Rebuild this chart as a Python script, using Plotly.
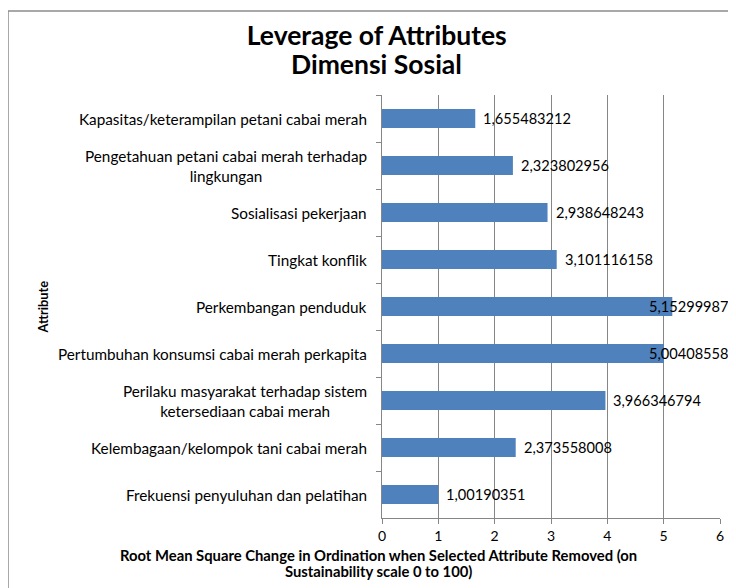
import plotly.graph_objects as go

# data (top to bottom)
attributes = [
    'Kapasitas/keterampilan petani cabai merah',
    'Pengetahuan petani cabai merah terhadap<br>lingkungan',
    'Sosialisasi pekerjaan',
    'Tingkat konflik',
    'Perkembangan penduduk',
    'Pertumbuhan konsumsi cabai merah perkapita',
    'Perilaku masyarakat terhadap sistem<br>ketersediaan cabai merah',
    'Kelembagaan/kelompok tani cabai merah',
    'Frekuensi penyuluhan dan pelatihan',
]
leverage = [1.655483212, 2.323802956, 2.938648243, 3.101116158, 5.152999871,
            5.004085588, 3.966346794, 2.373558008, 1.00190351]

FONT = 'Lato'
BAR = '#4F81BD'
GRID = '#868686'
LABEL_XMAX = 4.60  # labels that would run off the chart area get pulled back

fig = go.Figure()
fig.add_trace(go.Bar(
    x=leverage, y=attributes, orientation='h',
    marker=dict(color=BAR, line=dict(width=0)),
    width=0.4, showlegend=False, hoverinfo='x+y'
))

annotations = []
for name, v in zip(attributes, leverage):
    # value label
    annotations.append(dict(
        x=min(v, LABEL_XMAX), y=name, xref='x', yref='y',
        text=str(v).replace('.', ','), showarrow=False,
        xanchor='left', xshift=6, font=dict(family=FONT, size=14.6, color='#000')
    ))
    # category label (centred lines when wrapped, like Excel)
    annotations.append(dict(
        x=0, y=name, xref='paper', yref='y', text=name, showarrow=False,
        xanchor='right', xshift=-13, align='center',
        font=dict(family=FONT, size=15.3, color='#000')
    ))

annotations.append(dict(
    x=-1.003, y=0.5, xref='paper', yref='paper', text='<b>Attribute</b>',
    textangle=-90, showarrow=False, xanchor='center', yanchor='middle',
    font=dict(family=FONT, size=12.8, color='#000')
))
annotations.append(dict(
    x=-0.009, y=-0.0875, xref='paper', yref='paper',
    text='<b>Root Mean Square Change in Ordination when Selected Attribute Removed (on</b>',
    showarrow=False, xanchor='center', yanchor='middle',
    font=dict(family=FONT, size=14.8, color='#000')
))
annotations.append(dict(
    x=-0.009, y=-0.1253, xref='paper', yref='paper',
    text='<b>Sustainability scale 0 to 100)</b>',
    showarrow=False, xanchor='center', yanchor='middle',
    font=dict(family=FONT, size=14.8, color='#000')
))
annotations.append(dict(
    x=-0.015, y=1.0733, xref='paper', yref='paper', text='<b>Dimensi Sosial</b>',
    showarrow=False, xanchor='center', yanchor='middle',
    font=dict(family=FONT, size=26.5, color='#000')
))

fig.update_layout(
    width=736, height=588,
    margin=dict(l=374, r=24, t=87, b=78),
    paper_bgcolor='white', plot_bgcolor='white',
    title=dict(
        text='<b>Leverage of Attributes</b>',
        x=0.501, xanchor='center', y=1 - 28 / 588, yanchor='middle', yref='container',
        font=dict(family=FONT, size=26.5, color='#000')
    ),
    xaxis=dict(
        range=[0, 6], dtick=1, showgrid=True, gridcolor=GRID, gridwidth=1,
        showline=True, linecolor=GRID, ticks='outside', ticklen=5, tickcolor=GRID,
        zeroline=False, tickfont=dict(family=FONT, size=14, color='#000')
    ),
    yaxis=dict(
        type='category', autorange='reversed', showgrid=False, showticklabels=False,
        showline=True, linecolor=GRID, ticks='outside', ticklen=5, tickcolor=GRID,
        tickson='boundaries'
    ),
    annotations=annotations,
    shapes=[dict(
        type='rect', xref='paper', yref='paper',
        x0=-1.1065, x1=1.2, y0=-0.3, y1=1.1986,
        line=dict(color='#8c8c8c', width=1.5), fillcolor='rgba(0,0,0,0)', layer='below'
    )],
)

fig.write_html('out.html')
